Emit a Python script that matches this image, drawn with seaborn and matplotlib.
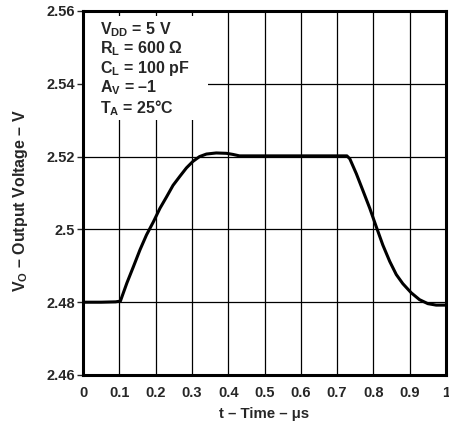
import matplotlib
matplotlib.use("Agg")
import matplotlib.pyplot as plt
from matplotlib.patches import Rectangle
import seaborn as sns
import pandas as pd

# Output transient response (time in µs, voltage in V)
time_us = [0.0, 0.05, 0.09, 0.103, 0.121, 0.139, 0.157, 0.175, 0.194, 0.212, 0.230,
           0.248, 0.267, 0.285, 0.303, 0.321, 0.340, 0.367, 0.395, 0.413, 0.431,
           0.458, 0.55, 0.65, 0.727, 0.735, 0.753, 0.771, 0.790, 0.808, 0.826,
           0.845, 0.863, 0.881, 0.904, 0.927, 0.950, 0.973, 1.0]
vout = [2.4800, 2.4800, 2.4801, 2.4803, 2.4853, 2.4898, 2.4944, 2.4985, 2.5021, 2.5058, 2.5089,
        2.5121, 2.5146, 2.5169, 2.5187, 2.5200, 2.5207, 2.5210, 2.5209, 2.5206, 2.5202,
        2.5202, 2.5202, 2.5202, 2.5202, 2.5194, 2.5153, 2.5107, 2.5058, 2.5007, 2.4957,
        2.4912, 2.4876, 2.4851, 2.4826, 2.4807, 2.4796, 2.4792, 2.4792]

x_ticks = [0, 0.1, 0.2, 0.3, 0.4, 0.5, 0.6, 0.7, 0.8, 0.9, 1]
x_tick_labels = ["0", "0.1", "0.2", "0.3", "0.4", "0.5", "0.6", "0.7", "0.8", "0.9", "1"]
y_ticks = [2.46, 2.48, 2.50, 2.52, 2.54, 2.56]
y_tick_labels = ["2.46", "2.48", "2.5", "2.52", "2.54", "2.56"]

conditions = [
    r"$\mathbf{V_{DD}}$ = 5 V",
    r"$\mathbf{R_{L}}$ = 600 Ω",
    r"$\mathbf{C_{L}}$ = 100 pF",
    r"$\mathbf{A_{V}}$ = –1",
    r"$\mathbf{T_{A}}$ = 25°C",
]

sns.set_style("white")
plt.rcParams["font.family"] = ["Liberation Sans", "DejaVu Sans"]
plt.rcParams["font.weight"] = "bold"
plt.rcParams["mathtext.fontset"] = "custom"
plt.rcParams["mathtext.rm"] = "Liberation Sans:bold"
plt.rcParams["mathtext.bf"] = "Liberation Sans:bold"
plt.rcParams["mathtext.it"] = "Liberation Sans:bold"

df = pd.DataFrame({"t": time_us, "v": vout})

fig = plt.figure(figsize=(4.49, 4.24), dpi=100)
ax = fig.add_axes([83 / 449, 1 - 375 / 424, 363 / 449, 364 / 424])

ax.set_xticks(x_ticks)
ax.set_yticks(y_ticks)
ax.grid(True, color="black", linewidth=0.9, zorder=0)
ax.set_axisbelow(True)

sns.lineplot(data=df, x="t", y="v", ax=ax, color="black", linewidth=2.2, zorder=3)

ax.set_xlim(0, 1)
ax.set_ylim(2.46, 2.56)
ax.set_xticklabels(x_tick_labels, fontsize=10.5, fontweight="bold")
ax.set_yticklabels(y_tick_labels, fontsize=10.5, fontweight="bold")
ax.tick_params(axis="x", length=0, pad=8)
ax.tick_params(axis="y", length=4, width=1, direction="out", pad=2, left=True)

for s in ax.spines.values():
    s.set_linewidth(2.2)
    s.set_color("black")

ax.set_xlabel("t – Time – μs", fontsize=10.8, fontweight="bold", labelpad=5)
ax.set_ylabel(r"$\mathbf{V_{O}}$ – Output Voltage – V", fontsize=11.5, fontweight="bold")
ax.yaxis.set_label_coords(-0.145, 0.48)

# White panel in the upper-left corner that hides the grid behind the test conditions
ax.add_patch(Rectangle((0, 0.70), 0.344, 0.286, transform=ax.transAxes,
                       facecolor="white", edgecolor="none", zorder=2))
ax.text(0.047, 0.975, "\n".join(conditions), transform=ax.transAxes, ha="left", va="top",
        fontsize=11.5, fontweight="bold", linespacing=1.05, zorder=4)

fig.savefig("out.png", dpi=100)
